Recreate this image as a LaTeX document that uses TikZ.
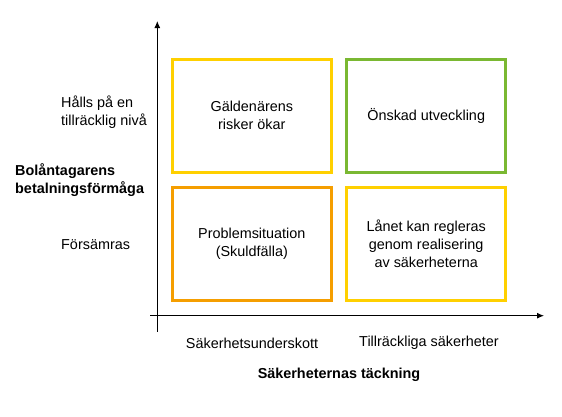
\documentclass[tikz,border=0pt]{standalone}
\usepackage{fontspec}
\setmainfont{Liberation Sans}
\usepackage{tikz}
\usetikzlibrary{positioning, arrows.meta, calc}
\definecolor{boxyellow}{RGB}{255,208,0}
\definecolor{boxgreen}{RGB}{122,184,50}
\definecolor{boxorange}{RGB}{245,158,0}
\newcommand{\labelsize}{\fontsize{14.4}{18}\selectfont}
\tikzset{
    quadrant/.style={draw, line width=3pt, minimum width=158.5pt, minimum height=113pt, align=center, inner sep=0pt},
    axis/.style={line width=1pt, -{Latex[length=7pt, width=6pt]}},
    levellabel/.style={align=left, anchor=west, inner sep=0pt},
    axislabel/.style={font=\labelsize\bfseries, inner sep=0pt},
}

\begin{document}
\begin{tikzpicture}[x=1pt, y=-1pt, font=\labelsize]
    \useasboundingbox (0,0) rectangle (562,416);

    % axes
    \coordinate (ybot) at (157.3,331.5);
    \coordinate (ytop) at (157.3,21);
    \coordinate (xleft) at (150,315.7);
    \coordinate (xright) at (544,315.7);
    \draw[axis] (ybot) -- (ytop);
    \draw[axis] (xleft) -- (xright);

    % quadrants
    \node[quadrant, draw=boxyellow] (risk) at (251.8,115.5) {Gäldenärens\\risker ökar};
    \node[quadrant, draw=boxgreen] (goal) at (426.2,115.5) {Önskad utveckling};
    \node[quadrant, draw=boxorange] (trap) at (251.8,243.7) {Problemsituation\\(Skuldfälla)};
    \node[quadrant, draw=boxyellow] (sell) at (426.2,243.7) {Lånet kan regleras\\genom realisering\\av säkerheterna};

    % y labels
    \node[levellabel] (high) at (61,112) {Hålls på en\\tillräcklig nivå};
    \node[levellabel] (low) at (61,245) {Försämras};
    \node[axislabel, levellabel] (ytitle) at (15,180) {Bolåntagarens\\betalningsförmåga};

    % x labels
    \node (under) at (252,343) {Säkerhetsunderskott};
    \node (enough) at (429,343) {Tillräckliga säkerheter};
    \node[axislabel] (xtitle) at (339,375) {Säkerheternas täckning};
\end{tikzpicture}
\end{document}
